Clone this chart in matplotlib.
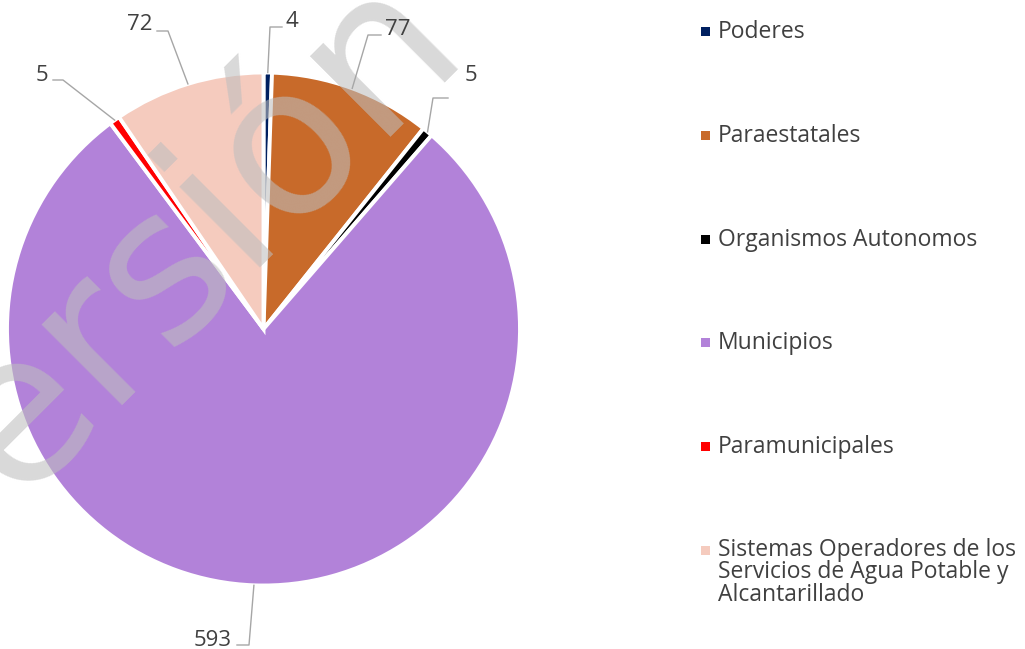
import matplotlib.pyplot as plt
from matplotlib.patches import Rectangle
import numpy as np

categories = [
    'Poderes',
    'Paraestatales',
    'Organismos Autonomos',
    'Municipios',
    'Paramunicipales',
    'Sistemas Operadores de los\nServicios de Agua Potable y\nAlcantarillado',
]
values = [4, 77, 5, 593, 5, 72]
colors = ['#002060', '#C86A2A', '#000000', '#B282D9', '#FF0000', '#F5CBBE']

W, H = 1025, 649
TXT = '#404040'
LINE = '#A6A6A6'
plt.rcParams['font.family'] = ['Open Sans', 'DejaVu Sans']

fig = plt.figure(figsize=(W / 100, H / 100), dpi=100)
ax = fig.add_axes([0, 0, 1, 1])


def Y(y):
    # pixel row from top -> data y
    return H - y


cx, cy, r = 263.5, 329, 256.5
wedges, _ = ax.pie(values, colors=colors, startangle=90, counterclock=False,
                   center=(cx, Y(cy)), radius=r,
                   wedgeprops=dict(edgecolor='white', linewidth=2.8))
ax.set_xlim(0, W)
ax.set_ylim(0, H)
ax.set_aspect('equal')
ax.axis('off')

# watermark
ax.text(-71, Y(597), 'Versión', fontsize=150, family='DejaVu Sans',
        color=(0.745, 0.745, 0.745), alpha=0.58, rotation=45,
        rotation_mode='anchor', ha='left', va='baseline', zorder=5)

# data labels with leader lines: (text x, baseline y, ha, elbow, end of horizontal)
label_layout = [
    (286, 27, 'left', (270, 27), (282, 27)),
    (385, 35, 'left', (368, 35), (381, 35)),
    (465, 81, 'left', (433, 98), (448, 98)),
    (232, 646, 'right', (249, 645), (237, 645)),
    (48, 81, 'right', (63, 80), (53, 80)),
    (152, 30, 'right', (168, 31), (157, 31)),
]
for w, v, (tx, ty, ha, elbow, end) in zip(wedges, values, label_layout):
    mid = np.deg2rad((w.theta1 + w.theta2) / 2)
    ex, ey = cx + r * np.cos(mid), Y(cy) + r * np.sin(mid)
    ax.plot([ex, elbow[0], end[0]], [ey, Y(elbow[1]), Y(end[1])],
            color=LINE, lw=1, zorder=6)
    ax.text(tx, Y(ty), str(v), fontsize=16, color=TXT, ha=ha, va='baseline',
            zorder=7)

# legend
rows = [31, 135, 239, 342, 446, 550]
for cat, col, ry in zip(categories, colors, rows):
    ax.add_patch(Rectangle((700.5, Y(ry) - 5), 9, 9, facecolor=col,
                           edgecolor='none', zorder=7))
    nl = cat.count('\n')
    ax.text(718, Y(ry + 1 + nl * 21.5 / 2), cat, fontsize=16.5, color=TXT,
            ha='left', va='center', linespacing=0.92, zorder=7)

fig.savefig('out.png', dpi=100)
